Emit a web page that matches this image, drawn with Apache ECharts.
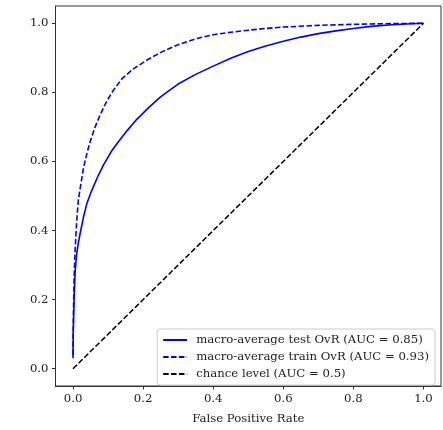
<!DOCTYPE html>
<html><head><meta charset="utf-8">
<script src="https://cdn.jsdelivr.net/npm/echarts@6/dist/echarts.min.js"></script>
<style>html,body{margin:0;padding:0;background:#fff}#c{width:443px;height:430px}</style>
</head><body><div id="c"></div>
<script>
const fprTest = [0, 0.0005, 0.003, 0.006, 0.01, 0.015, 0.02, 0.03, 0.04, 0.053, 0.07, 0.087, 0.11, 0.13, 0.155, 0.182, 0.215, 0.249, 0.275, 0.3, 0.35, 0.4, 0.45, 0.5, 0.55, 0.6, 0.65, 0.7, 0.75, 0.8, 0.85, 0.9, 0.95, 1.0];
const tprTest = [0.03, 0.1, 0.2, 0.28, 0.33, 0.363, 0.39, 0.44, 0.48, 0.515, 0.555, 0.59, 0.63, 0.658, 0.69, 0.722, 0.755, 0.786, 0.806, 0.824, 0.852, 0.876, 0.899, 0.918, 0.934, 0.948, 0.96, 0.97, 0.978, 0.985, 0.991, 0.995, 0.998, 1.0];
const fprTrain = [0, 0.001, 0.003, 0.006, 0.01, 0.015, 0.02, 0.03, 0.04, 0.049, 0.063, 0.077, 0.095, 0.115, 0.14, 0.172, 0.21, 0.249, 0.3, 0.35, 0.4, 0.45, 0.5, 0.55, 0.6, 0.7, 0.8, 0.9, 1.0];
const tprTrain = [0.04, 0.15, 0.26, 0.344, 0.42, 0.487, 0.52, 0.582, 0.625, 0.658, 0.7, 0.734, 0.772, 0.806, 0.84, 0.868, 0.893, 0.915, 0.938, 0.955, 0.967, 0.974, 0.98, 0.985, 0.989, 0.994, 0.997, 0.999, 1.0];
const chanceX = [0, 1];
const chanceY = [0, 1];
const tickValues = [0, 0.2, 0.4, 0.6, 0.8, 1.0];
const names = ['macro-average test OvR (AUC = 0.85)', 'macro-average train OvR (AUC = 0.93)', 'chance level (AUC = 0.5)'];
const xName = 'False Positive Rate';

const font = 'DejaVu Serif';
const fs = 11.7;
const zip = (a, b) => a.map((v, i) => [v, b[i]]);
const chart = echarts.init(document.getElementById('c'), null, {renderer: 'canvas'});
const axisCommon = {
  type: 'value', min: -0.05, max: 1.05,
  axisLine: {show: true, onZero: false, lineStyle: {color: '#333', width: 1}},
  axisTick: {show: true, customValues: tickValues, length: 3.5, lineStyle: {color: '#333'}},
  axisLabel: {customValues: tickValues, formatter: v => v.toFixed(1), fontFamily: font, fontSize: fs, color: '#222'},
  splitLine: {show: false}
};
chart.setOption({
  animation: false,
  grid: {left: 55.5, top: 6, right: 2, bottom: 39, show: true, borderColor: '#333', borderWidth: 1, containLabel: false},
  xAxis: Object.assign({}, axisCommon, {
    axisLabel: Object.assign({}, axisCommon.axisLabel, {margin: 7}),
    name: xName, nameLocation: 'middle', nameGap: 27,
    nameTextStyle: {fontFamily: font, fontSize: fs, color: '#222'}
  }),
  yAxis: Object.assign({}, axisCommon, {axisLabel: Object.assign({}, axisCommon.axisLabel, {margin: 7})}),
  legend: {
    orient: 'vertical', right: 8, bottom: 45,
    data: names,
    itemWidth: 24, itemHeight: 10, itemGap: 5,
    padding: [5, 6, 5, 5],
    itemStyle: {opacity: 0},
    borderColor: '#ccc', borderWidth: 1, borderRadius: 3,
    backgroundColor: 'rgba(255,255,255,0.8)',
    textStyle: {fontFamily: font, fontSize: fs, color: '#222', padding: [0, 0, 0, 4]}
  },
  series: [
    {name: names[0], type: 'line', data: zip(fprTest, tprTest), showSymbol: false, symbol: 'none',
     lineStyle: {color: '#0000ff', width: 1.6, type: 'solid'}, itemStyle: {color: '#0000ff'}},
    {name: names[1], type: 'line', data: zip(fprTrain, tprTrain), showSymbol: false, symbol: 'none',
     lineStyle: {color: '#0000ff', width: 1.6, type: [5.5, 2.4]}, itemStyle: {color: '#0000ff'}},
    {name: names[2], type: 'line', data: zip(chanceX, chanceY), showSymbol: false, symbol: 'none',
     lineStyle: {color: '#000', width: 1.5, type: [5.5, 2.4]}, itemStyle: {color: '#000'}}
  ]
});
</script></body></html>
